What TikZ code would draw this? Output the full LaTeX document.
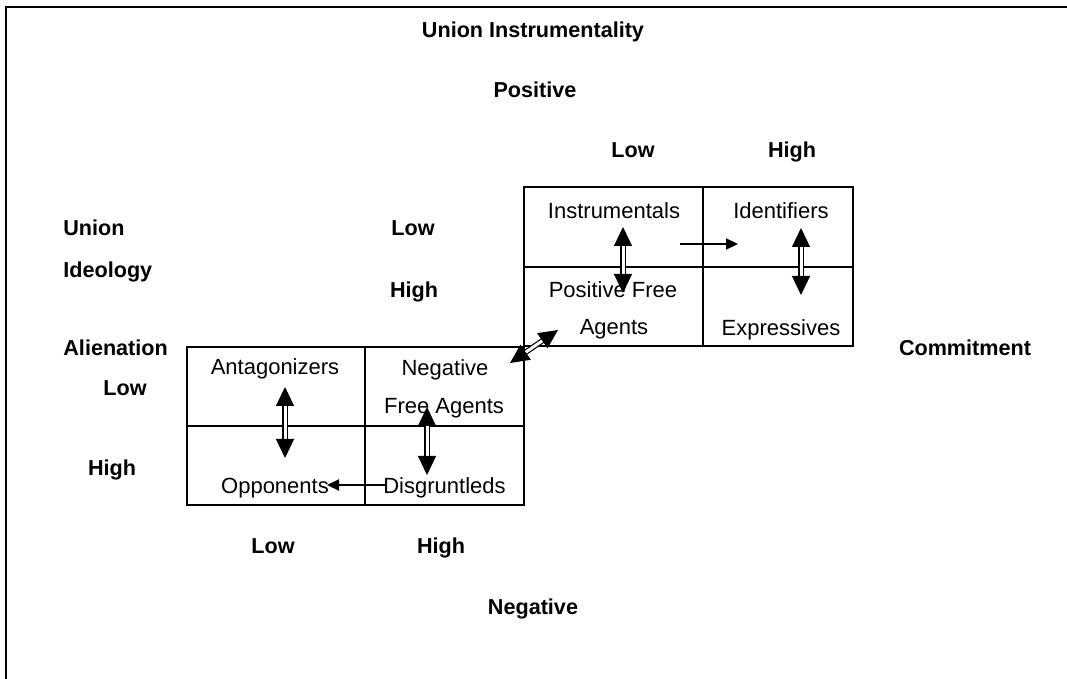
\documentclass[tikz,border=0pt]{standalone}
\usepackage{fontspec}
\setmainfont{Liberation Sans}
\usetikzlibrary{arrows.meta,calc}
\begin{document}
\begin{tikzpicture}[x=0.5pt,y=-0.5pt,
  every node/.style={font=\fontsize{11}{13}\selectfont, inner sep=0pt, text height=8pt, text depth=0pt},
  cell/.style={draw, line width=0.6pt, outer sep=0pt, minimum width=#1, minimum height=39.5pt},
  hdr/.style={font=\fontsize{10.8}{13}\selectfont\bfseries},
  txt/.style={},
  twoway/.style={double, double distance=1.5pt, line width=0.6pt,
    {Triangle[length=9.5pt,width=9pt]}-{Triangle[length=9.5pt,width=9pt]}},
  oneway/.style={line width=0.65pt, -{Triangle[length=6pt,width=5.6pt]}}]
\useasboundingbox (0,0) rectangle (1067,679);
% frame
\draw[line width=1.2pt] (6,690) -- (6,7) -- (1070,7);

% upper grid
\node[cell=89.5pt, minimum height=40pt] (inst) at (613.5,227) {};
\node[cell=75pt, minimum height=40pt] (ident) at (778,227) {};
\node[cell=89.5pt] (pfa) at (613.5,306.5) {};
\node[cell=75pt] (expr) at (778,306.5) {};
% lower grid
\node[cell=89pt] (antag) at (276,386.5) {};
\node[cell=79.5pt] (nfa) at (444.5,386.5) {};
\node[cell=89pt] (opp) at (276,465.5) {};
\node[cell=79.5pt] (disg) at (444.5,465.5) {};

% cell texts
\node[txt] (tinst) at (614,211) {Instrumentals};
\node[txt] (tident) at (781,211) {Identifiers};
\node[txt] (tpfa1) at (613,290) {Positive Free};
\node[txt] (tpfa2) at (614,327) {Agents};
\node[txt] (texpr) at (781,328) {Expressives};
\node[txt] (tantag) at (275,367) {Antagonizers};
\node[txt] (tnfa1) at (445,368) {Negative};
\node[txt] (tnfa2) at (444,406) {Free Agents};
\node[txt] (topp) at (275,486) {Opponents};
\node[txt] (tdisg) at (444.5,486) {Disgruntleds};

% axis labels
\node[hdr] (ui) at (533,30) {Union Instrumentality};
\node[hdr] (pos) at (535,90) {Positive};
\node[hdr] (lowtop) at (633,150) {Low};
\node[hdr] (hightop) at (792,150) {High};
\node[hdr, anchor=west] (union) at (63,228) {Union};
\node[hdr, anchor=west] (ideo) at (63,270) {Ideology};
\node[hdr] (lowmid) at (413,228) {Low};
\node[hdr] (highmid) at (414,290) {High};
\node[hdr, anchor=west] (alien) at (63,348) {Alienation};
\node[hdr] (lowleft) at (125,388) {Low};
\node[hdr] (highleft) at (112,468) {High};
\node[hdr] (commit) at (965,348) {Commitment};
\node[hdr] (lowbot) at (273,545) {Low};
\node[hdr] (highbot) at (441,545) {High};
\node[hdr] (neg) at (533,606) {Negative};

% arrow end points
\coordinate (a1t) at (623,227);  \coordinate (a1b) at (623,293);
\coordinate (a2t) at (801,228);  \coordinate (a2b) at (801,295);
\coordinate (a3a) at (510,363);  \coordinate (a3b) at (558,330);
\coordinate (a4t) at (285,387);  \coordinate (a4b) at (285,458);
\coordinate (a5t) at (427,407);  \coordinate (a5b) at (427,475);
\coordinate (t1a) at (680,244);  \coordinate (t1b) at (738,244);
\coordinate (t2a) at (385,485);  \coordinate (t2b) at (327,485);

% transitions
\draw[twoway] (a1t) -- (a1b);
\draw[twoway] (a2t) -- (a2b);
\draw[twoway] (a3a) -- (a3b);
\draw[twoway] (a4t) -- (a4b);
\draw[twoway] (a5t) -- (a5b);
\draw[oneway] (t1a) -- (t1b);
\draw[oneway] (t2a) -- (t2b);
\end{tikzpicture}
\end{document}
